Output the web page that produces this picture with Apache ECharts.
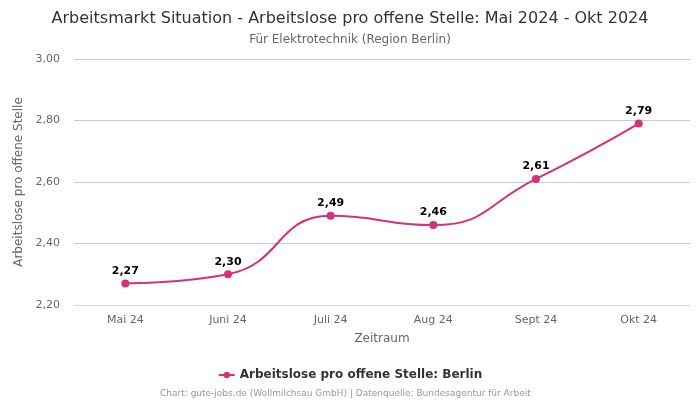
<!DOCTYPE html>
<html>
<head>
<meta charset="utf-8">
<script src="https://cdn.jsdelivr.net/npm/echarts@6/dist/echarts.min.js"></script>
<style>
  html, body { margin: 0; padding: 0; background: #fff; }
  #chart { width: 700px; height: 400px; }
</style>
</head>
<body>
<div id="chart"></div>
<script>
const months = ['Mai 24', 'Juni 24', 'Juli 24', 'Aug 24', 'Sept 24', 'Okt 24']
const berlin = [2.27, 2.30, 2.49, 2.46, 2.61, 2.79]
const seriesName = 'Arbeitslose pro offene Stelle: Berlin'

const fmt = v => v.toFixed(2).replace('.', ',')
const font = 'DejaVu Sans'

const chart = echarts.init(document.getElementById('chart'))
chart.setOption({
  animation: false,
  textStyle: { fontFamily: font },
  title: [
    {
      text: 'Arbeitsmarkt Situation - Arbeitslose pro offene Stelle: Mai 2024 - Okt 2024',
      subtext: 'Für Elektrotechnik (Region Berlin)',
      left: 'center',
      top: 6,
      itemGap: 7,
      textStyle: { fontSize: 16, fontWeight: 'normal', color: '#333', fontFamily: font },
      subtextStyle: { fontSize: 12, color: '#666', fontFamily: font }
    },
    {
      text: 'Chart: gute-jobs.de (Wollmilchsau GmbH) | Datenquelle: Bundesagentur für Arbeit',
      left: 155,
      top: 384,
      textStyle: { fontSize: 9, fontWeight: 'normal', color: '#999', fontFamily: font }
    }
  ],
  legend: {
    top: 364,
    left: 'center',
    itemWidth: 16,
    itemHeight: 8,
    textStyle: { fontSize: 12, fontWeight: 'bold', color: '#333', fontFamily: font },
    data: [seriesName]
  },
  grid: { left: 74, right: 10, top: 59, bottom: 95 },
  xAxis: {
    type: 'category',
    data: months,
    boundaryGap: true,
    name: 'Zeitraum',
    nameLocation: 'middle',
    nameGap: 28,
    nameTextStyle: { fontSize: 12, color: '#666' },
    axisLine: { lineStyle: { color: '#ccd6eb' } },
    axisTick: { show: false },
    axisLabel: { fontSize: 11, color: '#666', margin: 10 }
  },
  yAxis: {
    type: 'value',
    min: 2.2,
    max: 3.0,
    interval: 0.2,
    name: 'Arbeitslose pro offene Stelle',
    nameLocation: 'middle',
    nameGap: 43,
    nameTextStyle: { fontSize: 12, color: '#666' },
    axisLine: { show: false },
    axisTick: { show: false },
    axisLabel: { fontSize: 11, color: '#666', margin: 14, formatter: fmt },
    splitLine: { lineStyle: { color: '#ccc' } }
  },
  series: [
    {
      name: seriesName,
      type: 'line',
      data: berlin,
      smooth: 0.5,
      symbol: 'circle',
      symbolSize: 8,
      itemStyle: { color: '#d5307a' },
      lineStyle: { width: 2, color: '#d5307a' },
      label: {
        show: true,
        position: 'top',
        distance: 3,
        fontSize: 11,
        fontWeight: 'bold',
        color: '#000',
        formatter: p => fmt(p.value)
      }
    }
  ]
})
</script>
</body>
</html>
